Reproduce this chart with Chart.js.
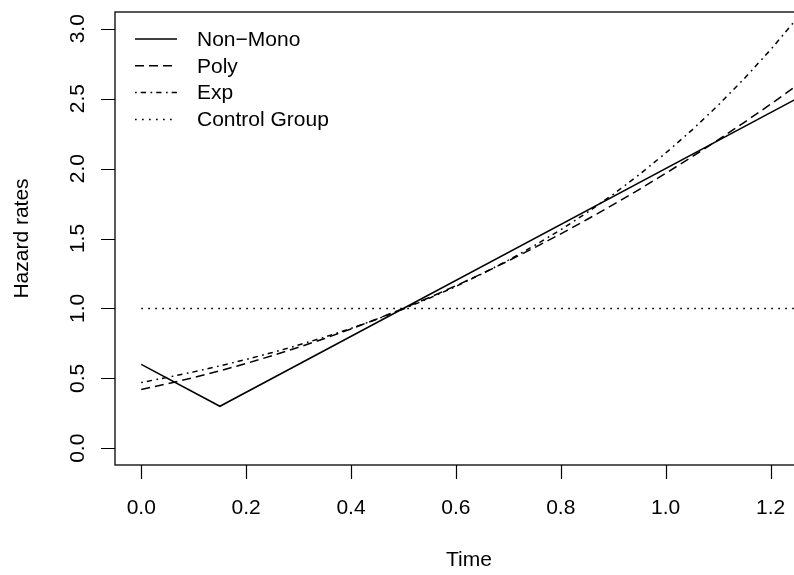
<!DOCTYPE html>
<html>
<head>
<meta charset="utf-8">
<script src="https://cdn.jsdelivr.net/npm/chart.js@4"></script>
<style>
  html, body { margin: 0; padding: 0; background: #fff; overflow: hidden; }
  #wrap { width: 830px; height: 575px; }
</style>
</head>
<body>
<div id="wrap"><canvas id="chart1"></canvas></div>
<script>
// Hazard rates over time
const times = [0, 0.05, 0.1, 0.15, 0.2, 0.25, 0.3, 0.35, 0.4, 0.45, 0.5, 0.55, 0.6,
    0.65, 0.7, 0.75, 0.8, 0.85, 0.9, 0.95, 1.0, 1.05, 1.1, 1.15, 1.2, 1.25]
const polyRates = [0.42, 0.461, 0.505, 0.554, 0.606, 0.662, 0.722, 0.785, 0.853, 0.925, 1.0, 1.079, 1.162,
    1.249, 1.34, 1.435, 1.533, 1.636, 1.742, 1.852, 1.966, 2.084, 2.205, 2.331, 2.46, 2.594]
const expRates = [0.47, 0.507, 0.546, 0.589, 0.635, 0.684, 0.738, 0.795, 0.857, 0.924, 0.996, 1.074, 1.157,
    1.248, 1.345, 1.45, 1.563, 1.685, 1.816, 1.958, 2.111, 2.275, 2.453, 2.644, 2.85, 3.072]
const nonMonoTimes = [0, 0.15, 1.25]
const nonMonoRates = [0.6, 0.3, 2.5]
const controlTimes = [0, 1.25]
const controlRates = [1, 1]

const xTicks = [0, 0.2, 0.4, 0.6, 0.8, 1.0, 1.2]
const xTickLabels = ['0.0', '0.2', '0.4', '0.6', '0.8', '1.0', '1.2']
const yTicks = [0, 0.5, 1.0, 1.5, 2.0, 2.5, 3.0]
const yTickLabels = ['0.0', '0.5', '1.0', '1.5', '2.0', '2.5', '3.0']

const FONT = '21px "Liberation Sans", Arial, Helvetica, sans-serif'

const toPoints = (xs, ys) => xs.map((x, i) => ({ x: x, y: ys[i] }))

const lineStyle = (dash) => ({
    borderColor: '#000',
    borderWidth: 1.5,
    borderDash: dash,
    pointRadius: 0,
    fill: false,
    tension: 0,
})

// R-style frame, ticks, labels and legend
const basePlot = {
    id: 'basePlot',
    afterDraw(chart) {
        const { ctx, chartArea: a, scales } = chart
        const xs = scales.x
        const ys = scales.y
        ctx.save()
        ctx.strokeStyle = '#000'
        ctx.lineWidth = 1.3
        ctx.setLineDash([])
        ctx.strokeRect(a.left, a.top, a.right - a.left, a.bottom - a.top)

        ctx.lineWidth = 1.2
        ctx.beginPath()
        xTicks.forEach((v) => {
            const px = Math.round(xs.getPixelForValue(v)) + 0.5
            ctx.moveTo(px, a.bottom)
            ctx.lineTo(px, a.bottom + 14)
        })
        yTicks.forEach((v) => {
            const py = Math.round(ys.getPixelForValue(v)) + 0.5
            ctx.moveTo(a.left, py)
            ctx.lineTo(a.left - 14, py)
        })
        ctx.stroke()

        ctx.fillStyle = '#000'
        ctx.font = FONT
        ctx.textAlign = 'center'
        ctx.textBaseline = 'middle'
        xTicks.forEach((v, i) => {
            ctx.fillText(xTickLabels[i], xs.getPixelForValue(v), a.bottom + 43)
        })
        yTicks.forEach((v, i) => {
            ctx.save()
            ctx.translate(a.left - 37, ys.getPixelForValue(v))
            ctx.rotate(-Math.PI / 2)
            ctx.fillText(yTickLabels[i], 0, 0)
            ctx.restore()
        })

        ctx.fillText('Time', (a.left + a.right) / 2, a.bottom + 95)
        ctx.save()
        ctx.translate(22, (a.top + a.bottom) / 2)
        ctx.rotate(-Math.PI / 2)
        ctx.fillText('Hazard rates', 0, 0)
        ctx.restore()

        // legend
        ctx.textAlign = 'left'
        chart.data.datasets.forEach((ds, i) => {
            const y = 39 + i * 26.8
            ctx.beginPath()
            ctx.lineWidth = 1.5
            ctx.setLineDash(ds.borderDash)
            ctx.moveTo(135, y)
            ctx.lineTo(177, y)
            ctx.stroke()
            ctx.setLineDash([])
            ctx.fillText(ds.label, 197, y + 1)
        })
        ctx.restore()
    },
}

const ctx1 = document.getElementById('chart1')

const chart1 = new Chart(ctx1, {
    type: 'line',
    data: {
        datasets: [
            { label: 'Non\u2212Mono', data: toPoints(nonMonoTimes, nonMonoRates), ...lineStyle([]) },
            { label: 'Poly', data: toPoints(times, polyRates), ...lineStyle([9, 5]) },
            { label: 'Exp', data: toPoints(times, expRates), ...lineStyle([1.7, 4, 5.3, 4.5]) },
            { label: 'Control Group', data: toPoints(controlTimes, controlRates), ...lineStyle([1.7, 5.3]) },
        ],
    },
    options: {
        responsive: true,
        maintainAspectRatio: false,
        animation: false,
        devicePixelRatio: 1,
        layout: {
            padding: { left: 115, right: 7, top: 12, bottom: 110 },
        },
        plugins: {
            legend: { display: false },
            tooltip: { enabled: false },
        },
        scales: {
            x: { type: 'linear', min: -0.05, max: 1.3, display: false },
            y: { type: 'linear', min: -0.12, max: 3.12, display: false },
        },
    },
    plugins: [basePlot],
})
</script>
</body>
</html>
